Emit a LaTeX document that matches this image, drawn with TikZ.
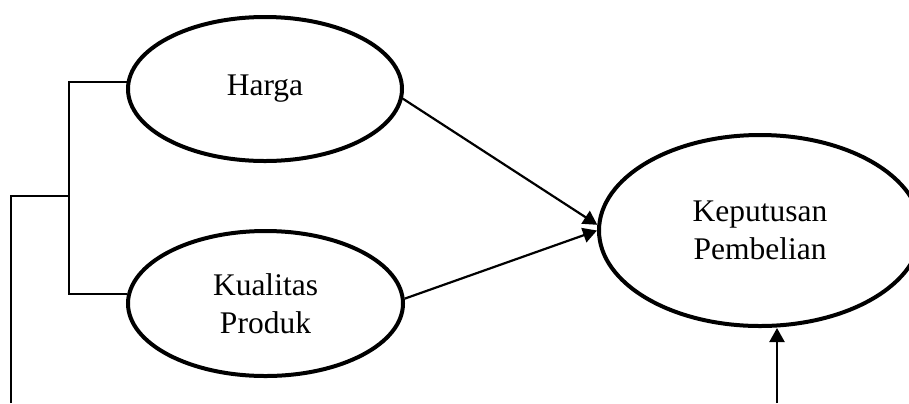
\documentclass[tikz,border=0pt]{standalone}
\usepackage{fontspec}
\setmainfont{Liberation Serif}
\usetikzlibrary{shapes.geometric,arrows.meta}

\tikzset{
  construct/.style={ellipse, draw, line width=2pt, inner sep=0pt,
    align=center, font=\fontsize{15.75pt}{19pt}\selectfont},
  link/.style={line width=1pt},
  path arrow/.style={line width=1.1pt, -{Triangle[length=7pt,width=7.5pt]}}
}

\begin{document}
\begin{tikzpicture}[x=0.5pt, y=-0.5pt]
  \useasboundingbox (0,0) rectangle (909,403);
  \clip (0,0) rectangle (909,403);

  % latent constructs
  \node[construct, minimum width=137pt, minimum height=72pt] (harga) at (265,89) {Harga};
  \node[construct, minimum width=137.5pt, minimum height=72.5pt] (kualitas) at (265.5,303.5) {Kualitas\\Produk};
  \node[construct, minimum width=161pt, minimum height=95.5pt] (keputusan) at (760,230.5) {Keputusan\\Pembelian};

  % bracket joining the two exogenous constructs
  \coordinate (join) at (69,195.5);
  \coordinate (leftend) at (11,403);
  \coordinate (bottomend) at (777,403);

  \draw[link] (harga.177.6) -| (join) |- (kualitas.176.4);
  \draw[link] (leftend) |- (join);

  % structural paths
  \draw[path arrow] (harga.-4) -- (keputusan.178.3);
  \draw[path arrow] (kualitas.2) -- (keputusan.180.6);
  \draw[path arrow] (bottomend) -- (bottomend |- keputusan.south);
\end{tikzpicture}
\end{document}
